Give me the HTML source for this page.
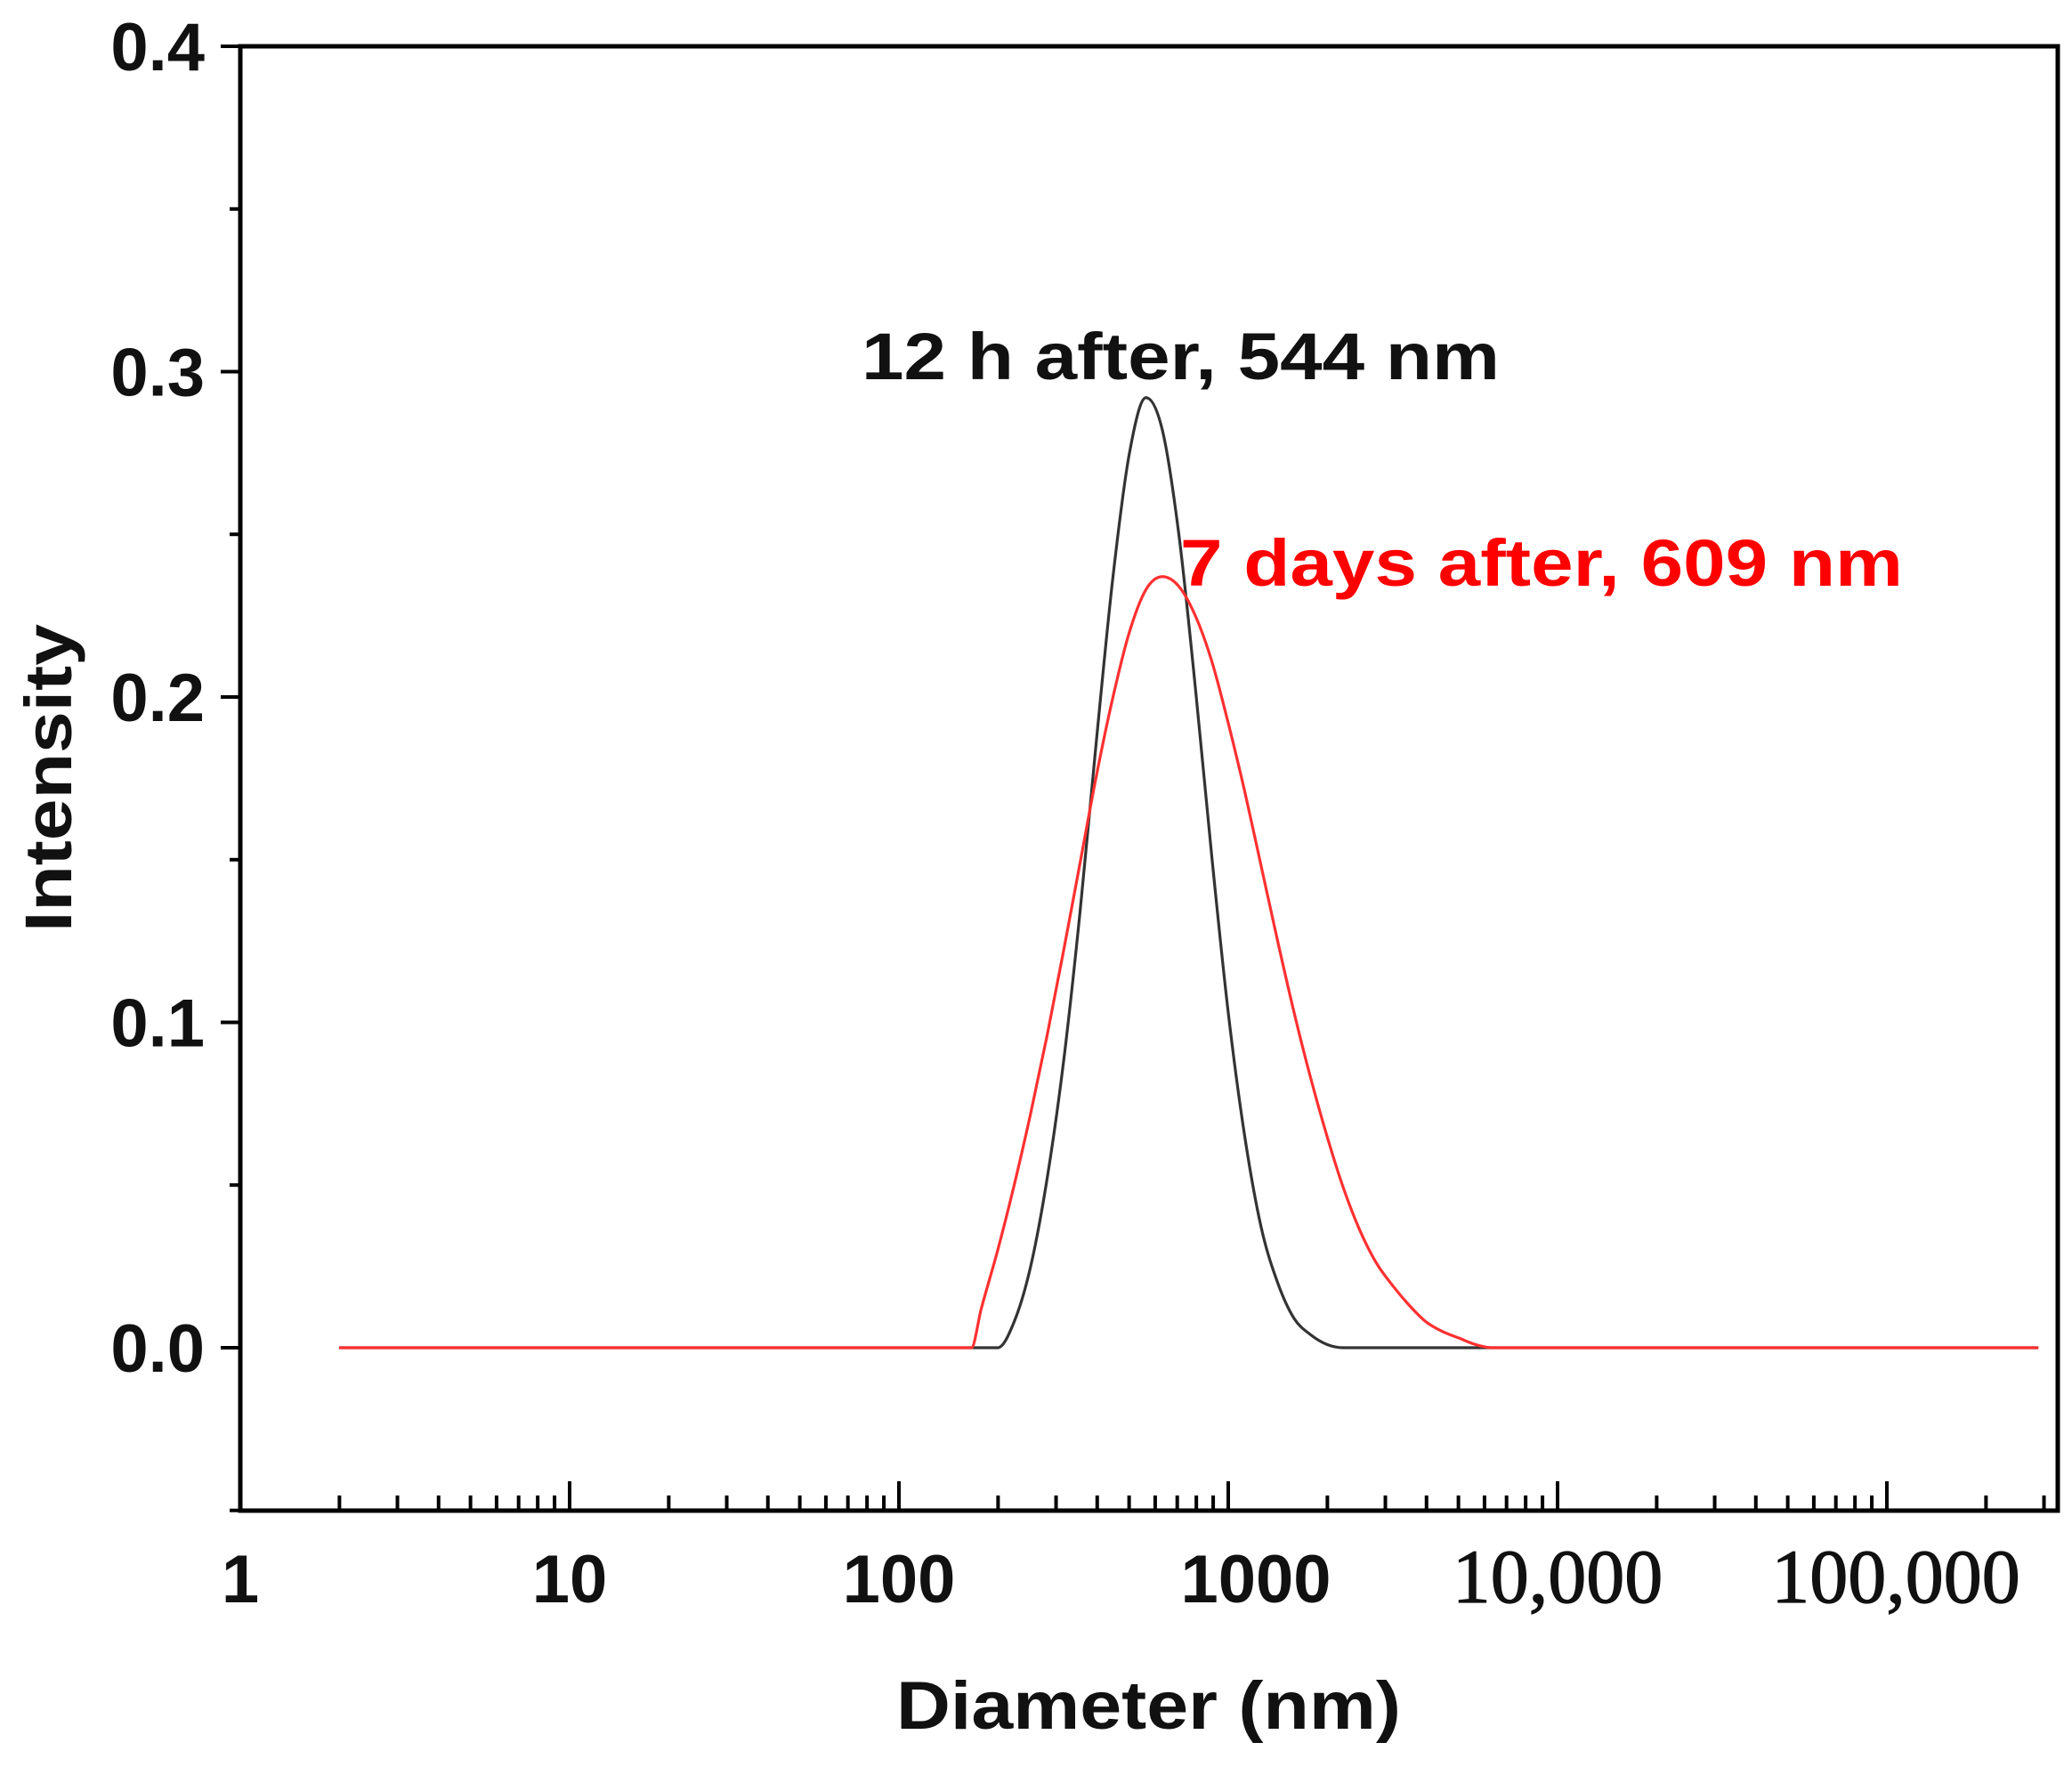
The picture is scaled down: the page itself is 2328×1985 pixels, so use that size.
<!DOCTYPE html>
<html><head><meta charset="utf-8"><style>
html,body{margin:0;padding:0;background:#fff;}
svg{display:block;}
</style></head><body>
<svg id="chart" width="2328" height="1985" viewBox="0 0 2328 1985" xmlns="http://www.w3.org/2000/svg">
<g id="ticks"></g>
<g id="series"></g>
<rect x="270" y="52" width="2042" height="1645" fill="none" stroke="#000" stroke-width="5"/>
<g id="labels" font-family="'Liberation Sans',Arial,sans-serif" font-weight="bold" fill="#111"></g>
<text x="968" y="426" font-family="'Liberation Sans',Arial,sans-serif" font-weight="bold" font-size="74" fill="#111" textLength="717" lengthAdjust="spacingAndGlyphs">12 h after, 544 nm</text>
<text x="1326" y="658" font-family="'Liberation Sans',Arial,sans-serif" font-weight="bold" font-size="74" fill="#ff0000" textLength="812" lengthAdjust="spacingAndGlyphs">7 days after, 609 nm</text>
<text x="1007" y="1942" font-family="'Liberation Sans',Arial,sans-serif" font-weight="bold" font-size="76" fill="#111" textLength="567" lengthAdjust="spacingAndGlyphs">Diameter (nm)</text>
<text transform="translate(80,1047) rotate(-90)" x="0" y="0" font-family="'Liberation Sans',Arial,sans-serif" font-weight="bold" font-size="74" fill="#111" textLength="346" lengthAdjust="spacingAndGlyphs">Intensity</text>
</svg>
<script>
const logDiameter12h = [0.3,2.30,2.35,2.40,2.45,2.50,2.55,2.60,2.65,2.70,2.75,2.80,2.85,2.90,2.95,3.00,3.05,3.10,3.15,3.20,3.25,3.30,3.35,5.46];
const intensity12h = [0,0,0.008,0.025,0.052,0.088,0.134,0.187,0.237,0.275,0.292,0.282,0.250,0.203,0.151,0.103,0.065,0.037,0.020,0.009,0.004,0.001,0,0];
const logDiameter7d = [0.3,2.22,2.25,2.30,2.35,2.40,2.45,2.50,2.55,2.60,2.65,2.70,2.75,2.80,2.85,2.90,2.95,3.00,3.05,3.10,3.15,3.20,3.25,3.30,3.35,3.40,3.45,3.50,3.55,3.60,3.65,3.70,3.75,3.80,5.46];
const intensity7d = [0,0,0.012,0.030,0.050,0.072,0.096,0.122,0.149,0.176,0.200,0.220,0.233,0.237,0.234,0.225,0.211,0.192,0.171,0.148,0.125,0.103,0.083,0.065,0.049,0.036,0.026,0.019,0.013,0.008,0.005,0.003,0.001,0,0];
const yTickValues = [0.0,0.1,0.2,0.3,0.4];
const yTickLabels = ["0.0","0.1","0.2","0.3","0.4"];
const xTickDecades = [0,1,2,3,4,5];
const xTickLabels = ["1","10","100","1000","10,000","100,000"];

const NS="http://www.w3.org/2000/svg";
const X0=270, DEC=370, Y0=1514, YU=3655;
function xs(l){return X0+l*DEC;}
function ys(v){return Y0-v*YU;}
function mk(tag,attrs,parent){const e=document.createElementNS(NS,tag);for(const k in attrs)e.setAttribute(k,attrs[k]);parent.appendChild(e);return e;}
const ticks=document.getElementById('ticks'), labels=document.getElementById('labels'), series=document.getElementById('series');
const BOT=1697;
for(let d=0; d<6; d++){
  for(let m=1;m<10;m++){
    const l=d+Math.log10(m); const x=xs(l);
    if(x>2310) continue;
    const len = m===1?33:17;
    const t=mk('line',{x1:x,x2:x,y1:BOT,y2:BOT-len,stroke:'#000','stroke-width':4},ticks);
    
    
  }
}
for(let v=-0.05; v<=0.401; v+=0.05){
  const major=Math.abs(Math.round(v*10)-v*10)<1e-6;
  const y=ys(v);
  const t=mk('line',{x1:270,x2:270-(major?22:12),y1:y,y2:y,stroke:'#000','stroke-width':4},ticks);
  
  
}
yTickValues.forEach((v,i)=>{
  const t=mk('text',{x:230,y:ys(v)+27,'text-anchor':'end','font-size':76},labels);
  t.textContent=yTickLabels[i];
  
  
});
xTickDecades.forEach((d,i)=>{
  const serif = xTickLabels[i].indexOf(',')>=0;
  const off = (d===3)?31:(d===5?10:0);
  const t=mk('text',{x:xs(d)+off,y:1800,'text-anchor':'middle','font-size':serif?86:76},labels);
  if(serif){t.setAttribute('font-family',"'Liberation Serif','Times New Roman',serif");t.setAttribute('font-weight','normal');t.setAttribute('stroke','#111');t.setAttribute('stroke-width','1.2');}
  t.textContent=xTickLabels[i];
  
  
});
// monotone cubic (Fritsch-Carlson) path
function curve(lx,vy,color,name){
  const X=lx.map(xs), Y=vy.map(ys), n=X.length;
  const dl=[], m=[];
  for(let i=0;i<n-1;i++) dl.push((Y[i+1]-Y[i])/(X[i+1]-X[i]));
  m[0]=dl[0]; m[n-1]=dl[n-2];
  for(let i=1;i<n-1;i++){ m[i]=(dl[i-1]*dl[i]<=0)?0:(dl[i-1]+dl[i])/2; }
  for(let i=0;i<n-1;i++){
    if(dl[i]===0){m[i]=0;m[i+1]=0;continue;}
    const a=m[i]/dl[i], b=m[i+1]/dl[i], s=a*a+b*b;
    if(s>9){const t=3/Math.sqrt(s);m[i]=t*a*dl[i];m[i+1]=t*b*dl[i];}
  }
  let d='M'+X[0]+','+Y[0];
  for(let i=0;i<n-1;i++){
    const h=(X[i+1]-X[i])/3;
    d+=' C'+(X[i]+h)+','+(Y[i]+m[i]*h)+' '+(X[i+1]-h)+','+(Y[i+1]-m[i+1]*h)+' '+X[i+1]+','+Y[i+1];
  }
  const p=mk('path',{d:d,fill:'none',stroke:color,'stroke-width':3.2,'stroke-linejoin':'round'},series);
  
  
}
curve(logDiameter12h,intensity12h,'#333','series-12h-line');
curve(logDiameter7d,intensity7d,'#ff3030','series-7days-line');
</script>
</body></html>
